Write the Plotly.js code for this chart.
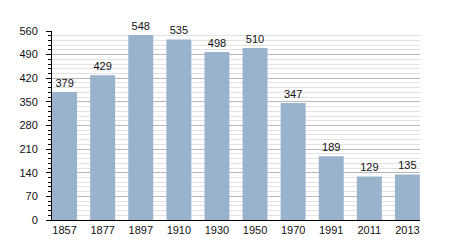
<!DOCTYPE html>
<html><head><meta charset="utf-8">
<script src="https://cdn.plot.ly/plotly-3.0.1.min.js"></script>
<style>html,body{margin:0;padding:0;background:#fff}</style>
</head><body><div id="chart" style="width:450px;height:250px"></div>
<script>
const years = ["1857","1877","1897","1910","1930","1950","1970","1991","2011","2013"];
const population = [379,429,548,535,498,510,347,189,129,135];
const yTicks = [0,70,140,210,280,350,420,490,560];

Plotly.newPlot("chart", [{
  type: "bar",
  x: years,
  y: population,
  text: population.map(String),
  textposition: "outside",
  cliponaxis: false,
  textfont: {family: "Liberation Sans, Arial, sans-serif", size: 11, color: "#111"},
  marker: {color: "#9ab3cc"},
  hoverinfo: "none"
}], {
  width: 450, height: 250,
  margin: {l: 52, r: 30, t: 31, b: 30},
  paper_bgcolor: "#fff", plot_bgcolor: "#fff",
  bargap: 0.344,
  showlegend: false,
  font: {family: "Liberation Sans, Arial, sans-serif", size: 11, color: "#111"},
  xaxis: {
    type: "category",
    range: [-0.33, 9.33],
    showline: true, linecolor: "#000", linewidth: 1,
    ticks: "", showgrid: false, zeroline: false,
    tickfont: {size: 11}
  },
  yaxis: {
    range: [0, 560],
    tickvals: yTicks,
    showline: true, linecolor: "#000", linewidth: 1,
    ticks: "outside", ticklen: 5, tickcolor: "#000",
    ticklabelstandoff: 6,
    showgrid: true, gridcolor: "#b8b8b8", gridwidth: 1,
    zeroline: false,
    tickfont: {size: 11},
    minor: {dtick: 14, showgrid: true, gridcolor: "#e2e2e2", ticks: "outside", ticklen: 3, tickcolor: "#000"}
  }
}, {displayModeBar: false, staticPlot: true});
</script></body></html>
